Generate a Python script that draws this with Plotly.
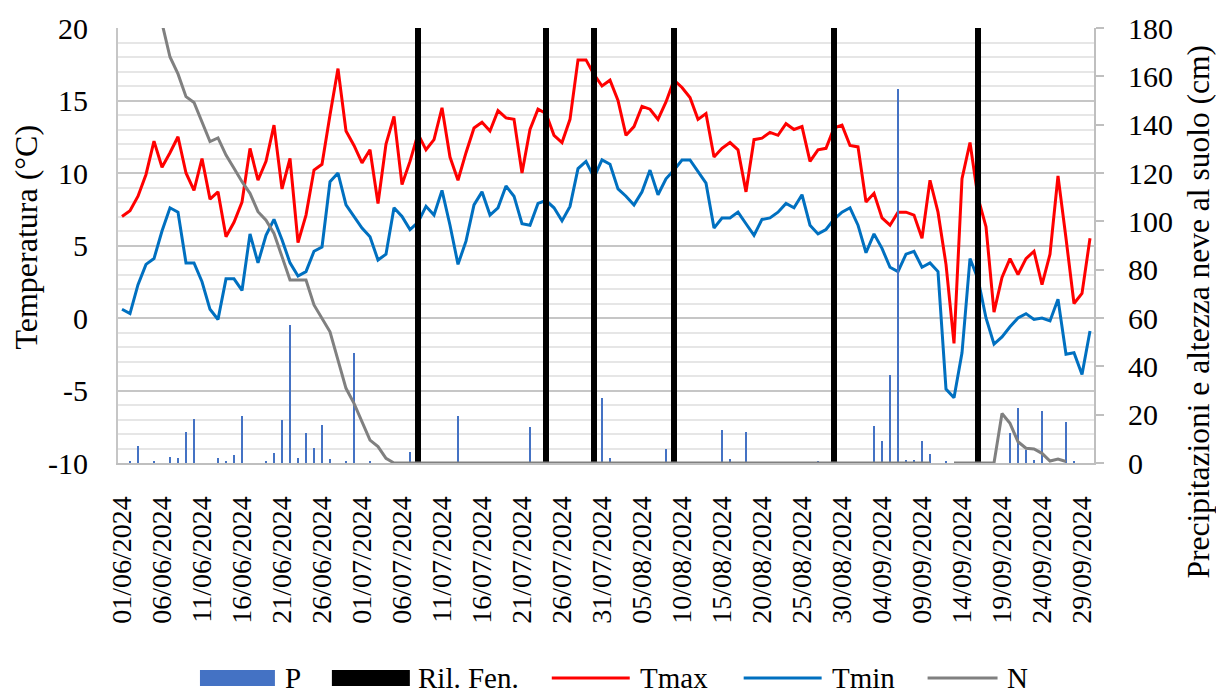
import plotly.graph_objects as go
import pandas as pd

# ---------------- data ----------------
dates = pd.date_range("2024-06-01", "2024-09-30", freq="D").strftime("%Y-%m-%d").tolist()

tmax = [7.0, 7.4, 8.4, 9.9, 12.2, 10.4, 11.4, 12.5, 10.0, 8.8,
        11.0, 8.2, 8.7, 5.6, 6.6, 8.0, 11.7, 9.5, 10.8, 13.3,
        8.9, 11.0, 5.2, 7.1, 10.2, 10.6, 14.0, 17.2, 12.9, 11.9,
        10.7, 11.6, 7.9, 12.0, 13.9, 9.2, 10.8, 12.7, 11.6, 12.3,
        14.5, 11.1, 9.5, 11.4, 13.1, 13.5, 12.9, 14.3, 13.8, 13.7,
        10.0, 13.0, 14.4, 14.1, 12.6, 12.1, 13.7, 17.8, 17.8, 16.8,
        16.0, 16.4, 15.0, 12.6, 13.2, 14.6, 14.4, 13.7, 14.9, 16.4,
        15.9, 15.2, 13.7, 14.1, 11.1, 11.7, 12.1, 11.6, 8.7, 12.3,
        12.4, 12.8, 12.6, 13.4, 13.0, 13.2, 10.8, 11.6, 11.7, 13.1,
        13.3, 11.9, 11.8, 8.0, 8.6, 6.9, 6.4, 7.3, 7.3, 7.1,
        5.5, 9.5, 7.3, 3.7, -1.75, 9.6, 12.1, 8.3, 6.3, 0.4,
        2.8, 4.1, 3.0, 4.1, 4.6, 2.3, 4.4, 9.8, 5.5, 1.0,
        1.7, 5.5]

tmin = [0.6, 0.3, 2.3, 3.7, 4.1, 6.0, 7.6, 7.3, 3.8, 3.8,
        2.5, 0.6, -0.1, 2.7, 2.7, 1.9, 5.8, 3.8, 5.7, 6.8,
        5.4, 3.8, 2.9, 3.2, 4.6, 4.9, 9.4, 10.0, 7.8, 7.0,
        6.2, 5.6, 4.0, 4.4, 7.6, 7.0, 6.1, 6.6, 7.7, 7.1,
        8.8, 6.4, 3.7, 5.3, 7.8, 8.7, 7.1, 7.6, 9.1, 8.4,
        6.5, 6.4, 7.9, 8.1, 7.6, 6.7, 7.7, 10.3, 10.8, 9.7,
        10.9, 10.6, 8.9, 8.4, 7.8, 8.7, 10.2, 8.5, 9.6, 10.2,
        10.9, 10.9, 10.1, 9.3, 6.2, 6.9, 6.9, 7.3, 6.5, 5.7,
        6.8, 6.9, 7.3, 7.9, 7.6, 8.5, 6.4, 5.8, 6.1, 6.8,
        7.3, 7.6, 6.4, 4.5, 5.8, 4.8, 3.5, 3.2, 4.4, 4.6,
        3.5, 3.8, 3.2, -4.9, -5.5, -2.4, 4.1, 2.7, 0.0, -1.8,
        -1.3, -0.6, 0.0, 0.3, -0.1, 0.0, -0.2, 1.3, -2.5, -2.4,
        -3.9, -0.9]

# snow depth on the ground (cm), right axis
snow = [220, 213, 205, 197, 189, 182, 168, 161, 151.6, 149.2,
        141, 133, 134.5, 127.4, 122, 116.4, 111.6, 104, 100.5, 95,
        85.4, 75.7, 75.7, 75.7, 65.4, 59.9, 54.3, 42.6, 30.9, 24.7,
        17.1, 9.5, 6.8, 1.9, 0, 0, 0, 0, 0, 0,
        0, 0, 0, 0, 0, 0, 0, 0, 0, 0,
        0, 0, 0, 0, 0, 0, 0, 0, 0, 0,
        0, 0, 0, 0, 0, 0, 0, 0, 0, 0,
        0, 0, 0, 0, 0, 0, 0, 0, 0, 0,
        0, 0, 0, 0, 0, 0, 0, 0, 0, 0,
        0, 0, 0, 0, 0, 0, 0, 0, 0, 0,
        0, 0, None, None, 0, 0, 0, 0, 0, 0,
        20.5, 16.4, 8.8, 6.1, 5.8, 4.0, 0.8, 1.6, 0.6, None,
        None, None]

# precipitation (mm), right axis
precip = [0, 0.5, 7.0, 0, 0.5, 0, 2.6, 2.2, 13.0, 18.2,
          0, 0, 2.2, 0.5, 3.3, 19.6, 0, 0, 0.5, 4.0,
          17.8, 57.1, 2.2, 12.3, 6.3, 15.7, 1.7, 0, 0.5, 45.4,
          0, 0.5, 0, 0, 0, 0, 4.7, 0, 0, 0,
          0, 0, 19.6, 0, 0, 0, 0, 0, 0, 0,
          0, 14.8, 0, 0, 0, 0, 0, 0, 0, 0,
          26.8, 2.2, 0, 0, 0, 0, 0, 0, 5.8, 0,
          0, 0, 0, 0, 0, 13.7, 1.7, 0, 12.7, 0,
          0, 0, 0, 0, 0, 0, 0, 1.0, 0, 0,
          0, 0, 0, 0, 15.4, 9.1, 36.4, 154.8, 1.2, 1.2,
          9.1, 3.6, 0, 0.5, 0, 0, 0, 0, 0, 0,
          0, 12.3, 22.6, 5.4, 1.2, 21.5, 0, 0, 17.1, 0.5,
          0, 0]

# phenological surveys ("Ril. Fen.")
ril_dates = ["2024-07-08", "2024-07-24", "2024-07-30", "2024-08-09", "2024-08-29", "2024-09-16"]
ril_values = [180, 180, 180, 180, 180, 180]

# axis tick labels
temp_ticks = [-10, -5, 0, 5, 10, 15, 20]
temp_ticktext = ["-10", "-5", "0", "5", "10", "15", "20"]

DAY_MS = 86400000
FONT = "Liberation Serif"

fig = go.Figure()
fig.add_trace(go.Bar(x=dates, y=precip, name="P", marker_color="#4472C4",
                     marker_line_width=0, width=0.3 * DAY_MS, yaxis="y2"))
fig.add_trace(go.Bar(x=ril_dates, y=ril_values, name="Ril. Fen.", marker_color="black",
                     marker_line_width=0, width=0.85 * DAY_MS, yaxis="y2"))
fig.add_trace(go.Scatter(x=dates, y=tmax, name="Tmax", mode="lines",
                         line=dict(color="#FF0000", width=3)))
fig.add_trace(go.Scatter(x=dates, y=tmin, name="Tmin", mode="lines",
                         line=dict(color="#0070C0", width=3)))
fig.add_trace(go.Scatter(x=dates, y=snow, name="N", mode="lines",
                         line=dict(color="#808080", width=3), yaxis="y2"))

# plot-area pixel geometry helpers (for legend / titles placement)
L, R, T, B = 118, 1094.5, 28, 463
def px(x):
    return (x - L) / (R - L)
def py(y):
    return (B - y) / (B - T)

shapes = []
annotations = []
leg_y = 678
legend_items = [
    ("rect", "#4472C4", 200, 275, "P", 283),
    ("rect", "black", 332, 410, "Ril. Fen.", 416),
    ("line", "#FF0000", 552, 630, "Tmax", 638),
    ("line", "#0070C0", 744, 822, "Tmin", 830),
    ("line", "#808080", 928, 998, "N", 1005),
]
for kind, col, x0, x1, label, tx in legend_items:
    if kind == "rect":
        shapes.append(dict(type="rect", xref="paper", yref="paper",
                           x0=px(x0), x1=px(x1), y0=py(leg_y + 8), y1=py(leg_y - 8),
                           fillcolor=col, line=dict(width=0)))
    else:
        shapes.append(dict(type="line", xref="paper", yref="paper",
                           x0=px(x0), x1=px(x1), y0=py(leg_y), y1=py(leg_y),
                           line=dict(color=col, width=3)))
    annotations.append(dict(text=label, xref="paper", yref="paper", x=px(tx), y=py(leg_y),
                            xanchor="left", yanchor="middle", showarrow=False,
                            font=dict(family=FONT, size=29, color="black")))

annotations.append(dict(text="Temperatura (°C)", textangle=-90, xref="paper", yref="paper",
                        x=px(25.5), y=py(237), xanchor="center", yanchor="middle",
                        showarrow=False, font=dict(family=FONT, size=32, color="black")))
annotations.append(dict(text="Precipitazioni e altezza neve al suolo (cm)", textangle=-90,
                        xref="paper", yref="paper", x=px(1199.5), y=py(311.5),
                        xanchor="center", yanchor="middle", showarrow=False,
                        font=dict(family=FONT, size=31.5, color="black")))

fig.update_layout(
    width=1216, height=693,
    margin=dict(l=L, r=1216 - R, t=T, b=693 - B, pad=0),
    paper_bgcolor="white", plot_bgcolor="white",
    font=dict(family=FONT, size=29, color="black"),
    barmode="overlay", bargap=0, showlegend=False,
    shapes=shapes, annotations=annotations,
    xaxis=dict(type="date", range=["2024-05-31 12:00", "2024-09-30 12:00"],
               tickformat="%d/%m/%Y", dtick=5 * DAY_MS, tick0="2024-06-01",
               tickangle=-90, showgrid=False, showline=True, linecolor="#bfbfbf",
               linewidth=2, ticks="", ticklabelstandoff=20,
               tickfont=dict(family=FONT, size=28, color="black")),
    yaxis=dict(range=[-10, 20], tickmode="array", tickvals=temp_ticks, ticktext=temp_ticktext,
               showgrid=True, gridcolor="#c6c6c6",
               gridwidth=2, minor=dict(dtick=1, showgrid=True, gridcolor="#e6e6e6", gridwidth=1.5),
               zeroline=False, showline=True, linecolor="#c6c6c6", linewidth=2,
               ticks="", ticklabelstandoff=22,
               tickfont=dict(family=FONT, size=30, color="black")),
    yaxis2=dict(overlaying="y", side="right", range=[0, 180], dtick=20,
                showgrid=False, zeroline=False, showline=True, linecolor="#bfbfbf",
                linewidth=2, ticks="outside", ticklen=8, tickwidth=2, tickcolor="#bfbfbf",
                ticklabelstandoff=18,
                tickfont=dict(family=FONT, size=30, color="black")),
)

fig.write_html("out.html", config={"displayModeBar": False},
               post_script="document.body.style.margin='0';document.body.style.overflow='hidden';")
